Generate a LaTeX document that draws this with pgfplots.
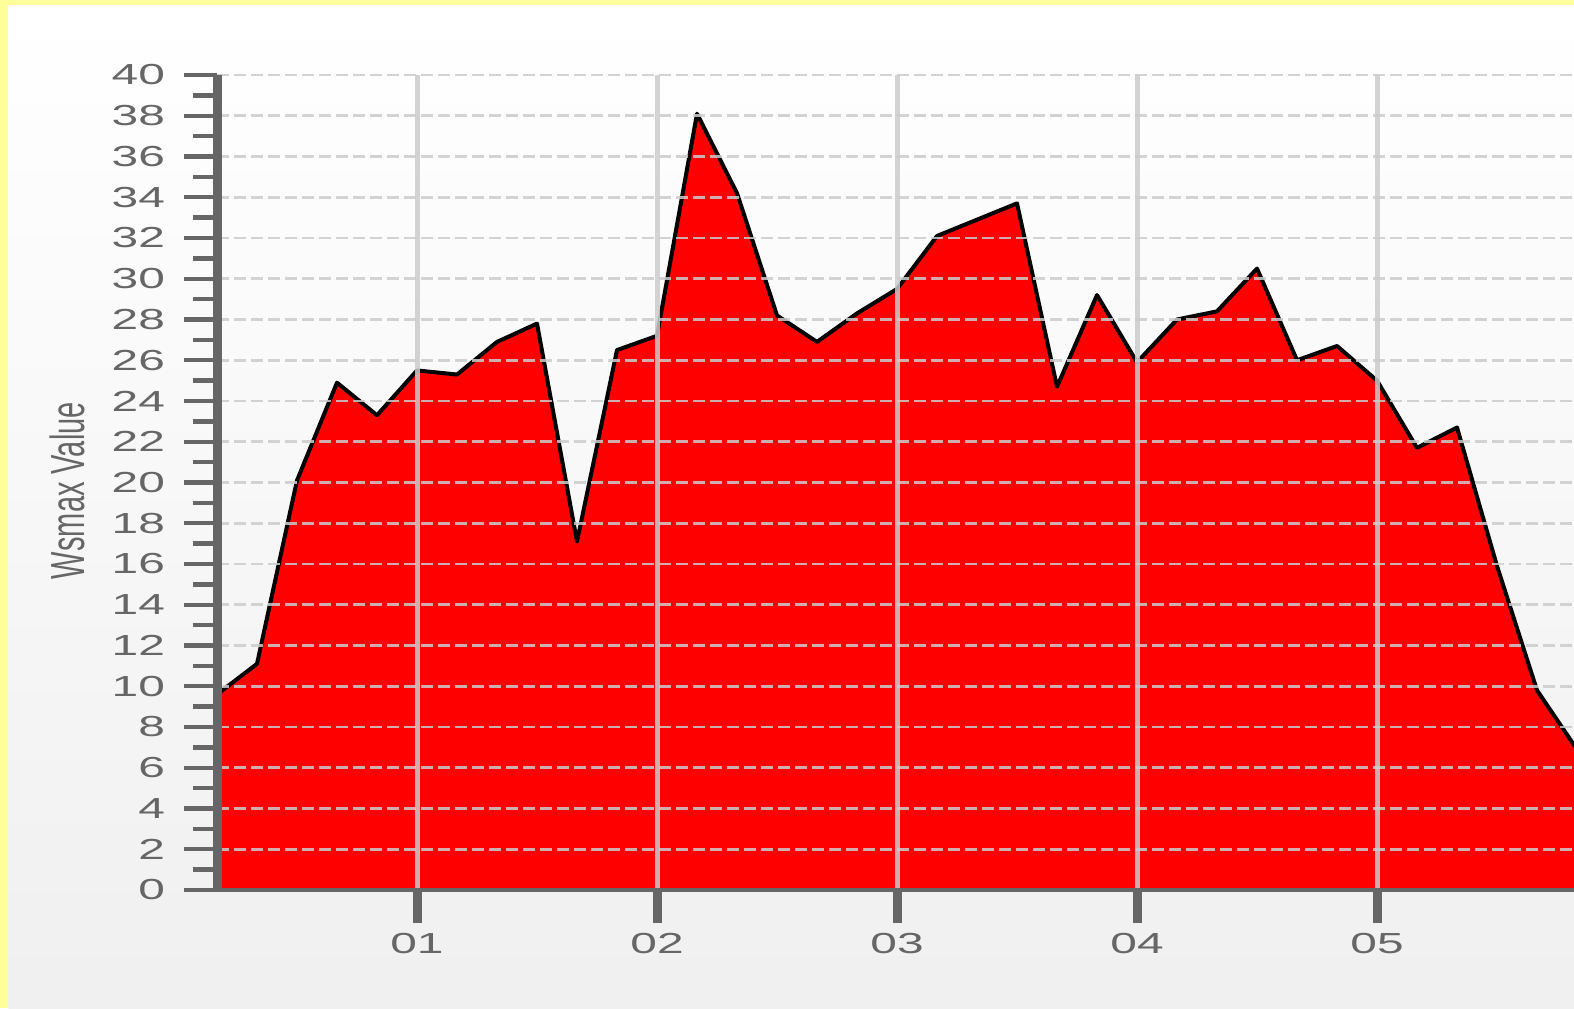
\documentclass[border=0pt]{standalone}
\usepackage{fontspec}
\setmainfont{Liberation Sans}
\usepackage{pgfplots}
\pgfplotsset{compat=1.18}
\usepackage{graphicx}
\definecolor{frameyellow}{HTML}{FFFF99}
\definecolor{axisgray}{HTML}{666666}
\definecolor{labelgray}{HTML}{666666}
\definecolor{gridgray}{HTML}{CCCCCC}
\newcommand\sx[1]{\scalebox{1.65}[1]{#1}}
\pgfplotstableread{
x y
0.166667 9.6
0.333333 11.1
0.5 20.1
0.666667 24.9
0.833333 23.3
1.0 25.5
1.166667 25.3
1.333333 26.9
1.5 27.8
1.666667 17.1
1.833333 26.5
2.0 27.2
2.166667 38.1
2.333333 34.2
2.5 28.2
2.666667 26.9
2.833333 28.3
3.0 29.5
3.166667 32.1
3.333333 32.9
3.5 33.7
3.666667 24.7
3.833333 29.2
4.0 25.9
4.166667 28.0
4.333333 28.4
4.5 30.5
4.666667 26.0
4.833333 26.7
5.0 25.0
5.166667 21.7
5.333333 22.7
5.5 15.9
5.666667 9.8
5.833333 6.9
}\datatable
\begin{document}
\begin{tikzpicture}
\useasboundingbox (0,0) rectangle (787pt,504pt);
\fill[frameyellow] (0,0) rectangle (787pt,504pt);
\shade[top color=white, bottom color=gray!12] (4.2pt,0) rectangle (787pt,501pt);
\begin{axis}[
  at={(108.5pt,59pt)}, anchor=south west,
  scale only axis, width=679pt, height=407.5pt,
  xmin=0.166667, xmax=5.825, ymin=0, ymax=40,
  axis x line=bottom, axis y line=left,
  x axis line style={-, line width=2pt, color=axisgray},
  y axis line style={-, line width=4.5pt, color=axisgray},
  axis on top,
  xtick={1,2,3,4,5},
  xticklabels={\sx{01},\sx{02},\sx{03},\sx{04},\sx{05}},
  ytick={0,2,...,40},
  yticklabel={\sx{\pgfmathprintnumber[assume math mode=true]{\tick}}},
  minor y tick num=1,
  tick align=outside,
  major tick length=16.5pt, minor tick length=12pt,
  xtick style={line width=4.5pt, color=axisgray},
  ytick style={line width=2.2pt, color=axisgray},
  ticklabel style={font=\fontsize{14.5}{17}\selectfont, color=labelgray},
  yticklabel style={xshift=-6pt},
  xticklabel style={yshift=-1.5pt},
  xmajorgrids, ymajorgrids,
  x grid style={gridgray, line width=2.5pt, opacity=0.85},
  y grid style={gridgray, line width=1.3pt, dash pattern=on 6pt off 2.5pt, opacity=0.85},
  ylabel={\scalebox{1}[1.65]{Wsmax Value}},
  ylabel style={at={(axis description cs:-0.1098,0.49)}, anchor=center, font=\fontsize{14.5}{17}\selectfont, color=labelgray},
]
\addplot[draw=none, fill=red] table[x=x, y=y] {\datatable} \closedcycle;
\addplot[black, line width=2pt, line join=round] table[x=x, y=y] {\datatable};
\end{axis}
\end{tikzpicture}
\end{document}
